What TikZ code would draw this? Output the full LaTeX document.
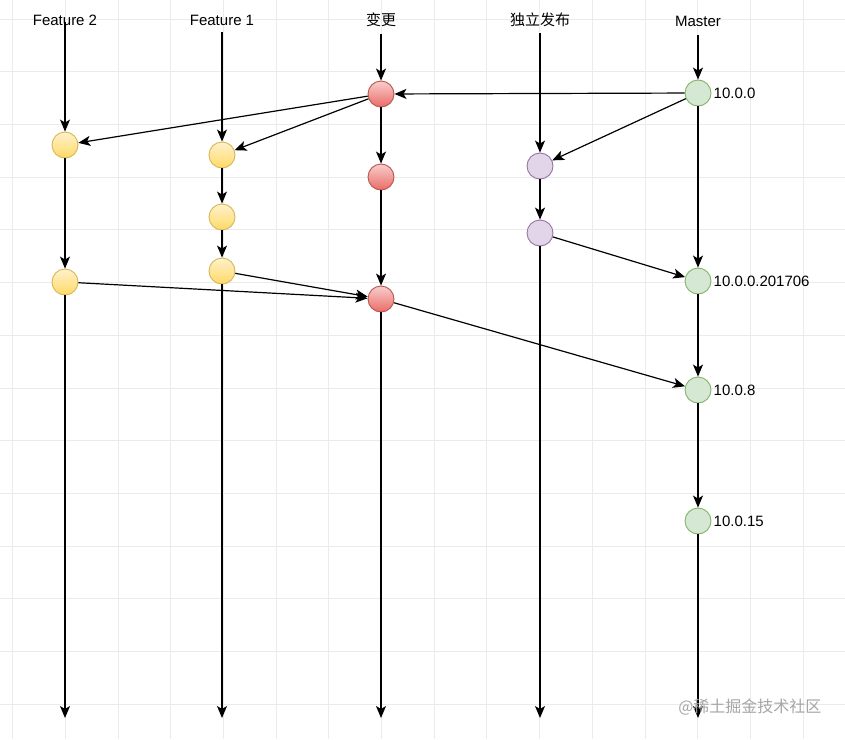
\documentclass[tikz,border=0pt]{standalone}
\usepackage{fontspec}
\setmainfont{Liberation Sans}
\newfontfamily\cjk{Noto Sans CJK SC}
\usetikzlibrary{arrows.meta}
\definecolor{gridc}{HTML}{EBEBEB}
\definecolor{ylwA}{HTML}{FFF2CC}
\definecolor{ylwB}{HTML}{FFD966}
\definecolor{ylwD}{HTML}{D6B656}
\definecolor{redA}{HTML}{F8CECC}
\definecolor{redB}{HTML}{EA6B66}
\definecolor{redD}{HTML}{B85450}
\definecolor{purF}{HTML}{E1D5E7}
\definecolor{purD}{HTML}{9673A6}
\definecolor{grnF}{HTML}{D5E8D4}
\definecolor{grnD}{HTML}{82B366}
\tikzset{
  commit/.style={circle,minimum size=26pt,inner sep=0pt,line width=0.9pt},
  ycommit/.style={commit,draw=ylwD,top color=ylwA,bottom color=ylwB},
  rcommit/.style={commit,draw=redD,top color=redA,bottom color=redB},
  pcommit/.style={commit,draw=purD,fill=purF},
  gcommit/.style={commit,draw=grnD,fill=grnF},
  head/.style={font=\fontsize{15}{17}\selectfont,inner sep=1pt},
  ver/.style={font=\fontsize{15}{17}\selectfont,anchor=west,inner sep=2pt},
  flow/.style={line width=1.2pt,-{Stealth[length=12pt,width=10pt,inset=3pt]}},
}
\begin{document}
\begin{tikzpicture}[x=1pt,y=-1pt]
\useasboundingbox (0,0) rectangle (845,739);
\fill[white] (0,0) rectangle (845,739);
% grid
\foreach \k in {0,...,15} {
  \draw[gridc,line width=0.8pt] ({12.5+52.7*\k},0) -- ({12.5+52.7*\k},739);
}
\foreach \k in {0,...,13} {
  \draw[gridc,line width=0.8pt] (0,{19+52.7*\k}) -- (845,{19+52.7*\k});
}
% headers
\node[head] (hF2) at (65,20) {Feature 2};
\node[head] (hF1) at (222,20) {Feature 1};
\node[head] (hC) at (381,20) {\cjk 变更};
\node[head] (hR) at (540,20) {\cjk 独立发布};
\node[head] (hM) at (698,21) {Master};
% start / end coordinates
\coordinate (sF2) at (65,22);
\coordinate (sF1) at (222,32);
\coordinate (sC) at (381,34);
\coordinate (sR) at (540,33);
\coordinate (sM) at (698,35);
\coordinate (eF2) at (65,718);
\coordinate (eF1) at (222,718);
\coordinate (eC) at (381,718);
\coordinate (eR) at (540,718);
\coordinate (eM) at (698,718);
% commits
\node[rcommit] (c1) at (381,94) {};
\node[rcommit] (c2) at (381,177) {};
\node[rcommit] (c3) at (381,299) {};
\node[ycommit] (f21) at (65,145) {};
\node[ycommit] (f22) at (65,282) {};
\node[ycommit] (f11) at (222,155) {};
\node[ycommit] (f12) at (222,217) {};
\node[ycommit] (f13) at (222,271) {};
\node[pcommit] (r1) at (540,166) {};
\node[pcommit] (r2) at (540,233) {};
\node[gcommit] (m1) at (698,93) {};
\node[gcommit] (m2) at (698,281) {};
\node[gcommit] (m3) at (698,390) {};
\node[gcommit] (m4) at (698,521) {};
% version labels
\node[ver] (v1) at (m1.east) {10.0.0};
\node[ver] (v2) at (m2.east) {10.0.0.201706};
\node[ver] (v3) at (m3.east) {10.0.8};
\node[ver] (v4) at (m4.east) {10.0.15};
% connectors
\draw[flow] (sF2) -- (f21);
\draw[flow] (f21) -- (f22);
\draw[flow] (f22) -- (eF2);
\draw[flow] (sF1) -- (f11);
\draw[flow] (f11) -- (f12);
\draw[flow] (f12) -- (f13);
\draw[flow] (f13) -- (eF1);
\draw[flow] (sC) -- (c1);
\draw[flow] (c1) -- (c2);
\draw[flow] (c2) -- (c3);
\draw[flow] (c3) -- (eC);
\draw[flow] (sR) -- (r1);
\draw[flow] (r1) -- (r2);
\draw[flow] (r2) -- (eR);
\draw[flow] (sM) -- (m1);
\draw[flow] (m1) -- (m2);
\draw[flow] (m2) -- (m3);
\draw[flow] (m3) -- (m4);
\draw[flow] (m4) -- (eM);
\draw[flow] (m1) -- (c1);
\draw[flow] (m1) -- (r1);
\draw[flow] (r2) -- (m2);
\draw[flow] (c1) -- (f21);
\draw[flow] (c1) -- (f11);
\draw[flow] (f22) -- (c3);
\draw[flow] (f13) -- (c3);
\draw[flow] (c3) -- (m3);
% watermark
\node[font=\cjk\fontsize{16}{18}\selectfont,text=black!35,anchor=east] (wm) at (825,707) {@稀土掘金技术社区};
\end{tikzpicture}
\end{document}
